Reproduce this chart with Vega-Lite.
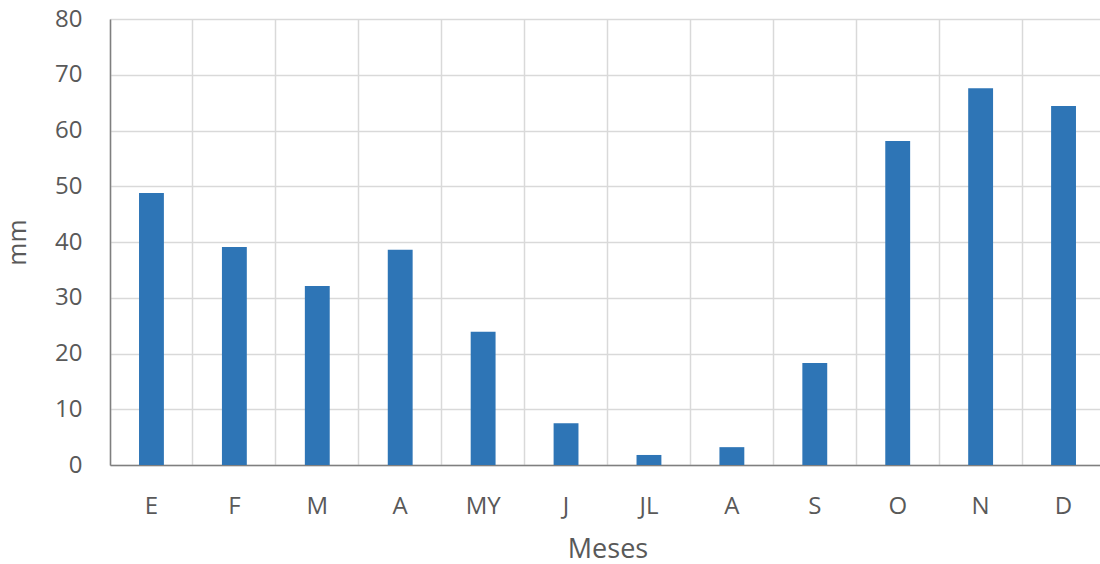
{
  "$schema": "https://vega.github.io/schema/vega-lite/v6.json",
  "width": 995,
  "height": 446,
  "autosize": {"type": "none"},
  "padding": {"left": 110, "top": 19, "right": 0, "bottom": 99},
  "background": "white",
  "config": {
    "view": {"stroke": null},
    "font": "Open Sans"
  },
  "data": {
    "values": [
      {"mes": "E", "mm": 48.8},
      {"mes": "F", "mm": 39.1},
      {"mes": "M", "mm": 32.1},
      {"mes": "A", "mm": 38.6},
      {"mes": "MY", "mm": 23.9},
      {"mes": "J", "mm": 7.5},
      {"mes": "JL", "mm": 1.8},
      {"mes": "A_", "mm": 3.2},
      {"mes": "S", "mm": 18.3},
      {"mes": "O", "mm": 58.1},
      {"mes": "N", "mm": 67.6},
      {"mes": "D", "mm": 64.4}
    ]
  },
  "mark": {"type": "bar", "color": "#2E75B6", "width": {"band": 0.3}},
  "encoding": {
    "x": {
      "field": "mes",
      "type": "nominal",
      "sort": null,
      "scale": {"paddingInner": 0, "paddingOuter": 0},
      "axis": {
        "title": "Meses",
        "labelAngle": 0,
        "labelExpr": "replace(datum.label, '_', '')",
        "labelFontSize": 24,
        "labelColor": "#595959",
        "labelPadding": 29,
        "ticks": false,
        "grid": true,
        "bandPosition": 0,
        "gridColor": "#D9D9D9",
        "gridWidth": 1.5,
        "domainColor": "#7F7F7F",
        "domainWidth": 1.5,
        "titleFontSize": 27,
        "titleFontWeight": "normal",
        "titleColor": "#595959",
        "titlePadding": 18
      }
    },
    "y": {
      "field": "mm",
      "type": "quantitative",
      "scale": {"domain": [0, 80], "nice": false},
      "axis": {
        "title": "mm",
        "values": [0, 10, 20, 30, 40, 50, 60, 70, 80],
        "labelFontSize": 24,
        "labelColor": "#595959",
        "labelPadding": 28,
        "ticks": false,
        "grid": true,
        "gridColor": "#D9D9D9",
        "gridWidth": 1.5,
        "domain": true,
        "domainColor": "#7F7F7F",
        "domainWidth": 1.5,
        "titleFontSize": 25,
        "titleFontWeight": "normal",
        "titleColor": "#595959",
        "titlePadding": 24
      }
    }
  }
}
